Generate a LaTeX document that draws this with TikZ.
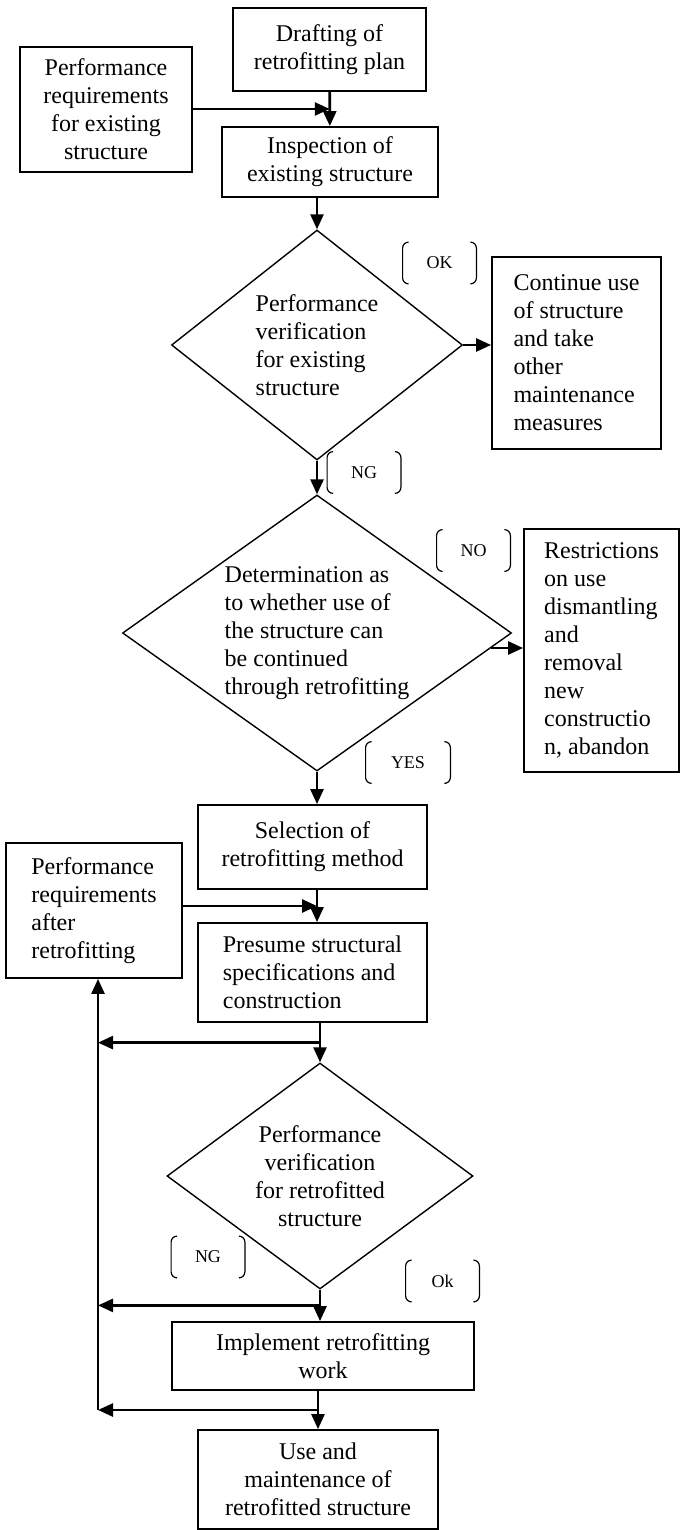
\documentclass[tikz,border=0pt]{standalone}
\usepackage{fontspec}
\setmainfont{Liberation Serif}
\usetikzlibrary{arrows.meta,shapes.geometric,calc}
\tikzset{
  box/.style={draw,line width=0.9pt,inner sep=0pt,align=center,font=\fontsize{12}{14}\selectfont},
  dec/.style={draw,diamond,line width=0.7pt,inner sep=0pt,font=\fontsize{12}{14}\selectfont},
  flow/.style={line width=1.3pt,-{Triangle[length=7.5pt,width=6.5pt]}},
  tag/.style={inner sep=0pt,minimum width=36.5pt,minimum height=20.5pt,font=\fontsize{9}{11}\selectfont},
  brk/.style={line width=0.6pt}
}
\newcommand{\tagbrk}[1]{%
  \draw[brk] ([xshift=3pt]#1.north west) to[out=180,in=90] ([yshift=-3pt]#1.north west) -- ([yshift=3pt]#1.south west) to[out=-90,in=180] ([xshift=3pt]#1.south west);
  \draw[brk] ([xshift=-3pt]#1.north east) to[out=0,in=90] ([yshift=-3pt]#1.north east) -- ([yshift=3pt]#1.south east) to[out=-90,in=0] ([xshift=-3pt]#1.south east);}

\begin{document}
\begin{tikzpicture}[x=0.5pt,y=-0.5pt]
\useasboundingbox (0,0) rectangle (680,1530);
\node[box,minimum width=96.5pt,minimum height=41.5pt] (draft) at (329.5,49.5) {Drafting of\\retrofitting plan};
\node[box,minimum width=86pt,minimum height=62.5pt] (preq) at (106,109.5) {Performance\\requirements\\for existing\\structure};
\node[box,minimum width=108pt,minimum height=35pt] (insp) at (330,162) {Inspection of\\existing structure};
\node[dec,minimum width=145.5pt,minimum height=115pt,aspect=1.27,align=left] (chk1) at (317,345) {Performance\\verification\\for existing\\structure};
\node[box,align=left,minimum width=84.5pt,minimum height=96pt] (cont) at (576.5,353) {Continue use\\of structure\\and take\\other\\maintenance\\measures};
\node[dec,minimum width=194.5pt,minimum height=138pt,aspect=1.41,align=left] (chk2) at (317,633) {Determination as\\to whether use of\\the structure can\\be continued\\through retrofitting};
\node[box,align=left,minimum width=77.5pt,minimum height=121.5pt] (restr) at (601.5,650.5) {Restrictions\\on use\\dismantling\\and\\removal\\new\\constructio\\n, abandon};
\node[box,minimum width=114.5pt,minimum height=42pt] (sel) at (312.5,847) {Selection of\\retrofitting method};
\node[box,align=left,minimum width=88pt,minimum height=67.5pt] (post) at (94,910.5) {Performance\\requirements\\after\\retrofitting};
\node[box,align=left,minimum width=114.5pt,minimum height=49.5pt] (pres) at (312.5,972.5) {Presume structural\\specifications and\\construction};
\node[dec,minimum width=153pt,minimum height=113pt,aspect=1.35,align=center] (chk3) at (320,1176) {Performance\\verification\\for retrofitted\\structure};
\node[box,minimum width=151pt,minimum height=34pt] (impl) at (323,1356) {Implement retrofitting\\work};
\node[box,minimum width=120pt,minimum height=49.5pt] (use) at (318,1479.5) {Use and\\maintenance of\\retrofitted structure};

\node[tag] (ok1) at (439.5,263) {OK}; \tagbrk{ok1}
\node[tag] (ng1) at (364,472.5) {NG}; \tagbrk{ng1}
\node[tag] (no) at (473.5,550.5) {NO}; \tagbrk{no}
\node[tag,minimum width=42pt] (yes) at (408,762.5) {YES}; \tagbrk{yes}
\node[tag] (ng2) at (208,1257) {NG}; \tagbrk{ng2}
\node[tag] (ok2) at (442.5,1281) {Ok}; \tagbrk{ok2}

\coordinate (m1) at ($(draft.south)!0.5!(insp.north)$);
\draw[flow] (draft) -- (insp);
\draw[flow] (preq.east |- m1) -- (m1);
\draw[flow] (insp.south -| chk1.north) -- (chk1.north);
\draw[flow] (chk1.east) -- (cont.west |- chk1.east);
\draw[flow] (chk1.south) -- (chk2.north);
\path (chk2.east) ++(-21,15) coordinate (c2o);
\draw[flow] (c2o) -- (c2o -| restr.west);
\draw[flow] (chk2.south) -- (sel.north -| chk2.south);
\coordinate (m2) at ($(sel.south)!0.5!(pres.north)$);
\draw[flow] (sel.south -| chk2.south) -- (pres.north -| chk2.south);
\draw[flow] (post.east |- m2) -- (m2 -| chk2.south);
\coordinate (lp) at (98,0);
\draw[flow] (pres.south -| chk3.north) -- (chk3.north);
\coordinate (m3) at ($(pres.south -| chk3.north)!0.5!(chk3.north)$);
\draw[flow] (m3) -- (m3 -| lp);
\draw[flow] (chk3.south) -- (impl.north -| chk3.south);
\coordinate (m4) at ($(chk3.south)!0.5!(impl.north -| chk3.south)$);
\draw[flow] (m4) -- (m4 -| lp);
\draw[flow] (impl.south -| use.north) -- (use.north);
\coordinate (m5) at ($(impl.south -| use.north)!0.5!(use.north)$);
\draw[flow] (m5) -- (m5 -| lp);
\draw[flow] (m5 -| lp) -- (lp |- post.south);
\end{tikzpicture}
\end{document}
